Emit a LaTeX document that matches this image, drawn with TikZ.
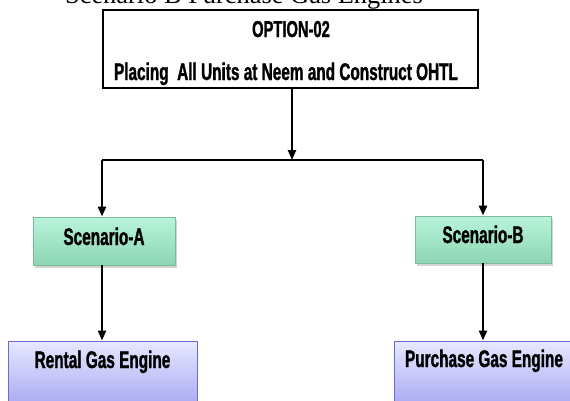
\documentclass[tikz,border=0pt]{standalone}
\usepackage{fontspec}
\usetikzlibrary{arrows.meta,shadows}
\newfontfamily\nb{Liberation Sans}[FakeStretch=0.64,FakeBold=1.2]
\newfontfamily\ser{Liberation Serif}
\definecolor{gtop}{HTML}{B8F4DB}
\definecolor{gbot}{HTML}{8CD6B3}
\definecolor{gbord}{HTML}{7DB89C}
\definecolor{ptop}{HTML}{E8E8FF}
\definecolor{pbot}{HTML}{9A9AF0}
\definecolor{pbord}{HTML}{6A6AD0}
\tikzset{
  conn/.style={line width=2.4pt, black},
  arr/.style={conn, -{Triangle[length=10pt,width=8pt]}},
  topbox/.style={draw=black, line width=2.2pt, fill=white, minimum width=375pt, minimum height=78pt, inner sep=0pt},
  scenbox/.style={draw=gbord, line width=0.8pt, top color=gtop, bottom color=gbot, inner sep=0pt,
    drop shadow={shadow xshift=2pt, shadow yshift=-2.5pt, opacity=0.35}},
  resbox/.style={draw=pbord, line width=1pt, top color=ptop, bottom color=pbot, inner sep=0pt},
  lbl/.style={font=\nb\bfseries\fontsize{24}{26}\selectfont, anchor=base, inner sep=0pt},
}
\begin{document}
\begin{tikzpicture}[x=1pt,y=-1pt]
\useasboundingbox (0,0) rectangle (570,400);
\clip (0,0) rectangle (570,400);
\node[anchor=base, inner sep=0pt, font=\ser\fontsize{26.4}{28}\selectfont] (title) at (244,3.5) {Scenario B Purchase Gas Engines};
\node[topbox] (top) at (290.5,49) {};
\node[lbl, font=\nb\bfseries\fontsize{23}{25}\selectfont] (t1) at (291,37) {OPTION-02};
\node[lbl] (t2) at (286,80) {Placing\ \ All Units at Neem and Construct OHTL};
\node[scenbox, minimum width=142pt, minimum height=48pt] (A) at (104,241) {};
\node[lbl] (ta) at (104,245) {Scenario-A};
\node[scenbox, minimum width=136pt, minimum height=47pt] (B) at (483,239.5) {};
\node[lbl] (tb) at (483,243) {Scenario-B};
\node[resbox, minimum width=189pt, minimum height=80pt] (R) at (102.5,381) {};
\node[lbl] (tr) at (102.5,368) {Rental Gas Engine};
\node[resbox, minimum width=182pt, minimum height=80pt] (P) at (485,381) {};
\node[lbl] (tp) at (484,367) {Purchase Gas Engine};
\coordinate (j) at (292,160);
\coordinate (jl) at (102,160);
\coordinate (jr) at (483,160);
\draw[arr] (top.south -| j) -- (j);
\draw[conn] (jl) -- (jr);
\draw[arr] (jl) -- (jl |- A.north);
\draw[arr] (jr) -- (jr |- B.north);
\draw[arr] (A.south -| jl) -- (jl |- R.north);
\draw[arr] (B.south -| jr) -- (jr |- P.north);
\end{tikzpicture}
\end{document}
